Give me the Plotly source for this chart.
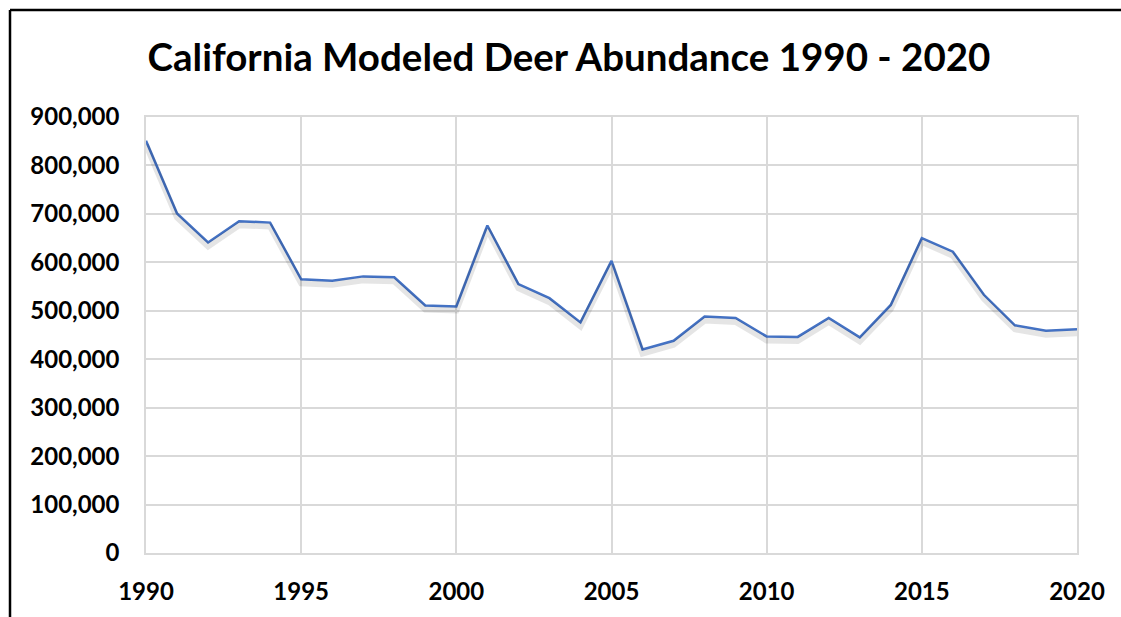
import plotly.graph_objects as go

years = list(range(1990, 2021))
abundance = [
    851000, 701000, 641000, 685000, 682000,
    565000, 562000, 571000, 569000, 511000,
    509000, 676000, 555000, 526000, 476000,
    603000, 420000, 438000, 488000, 485000,
    447000, 446000, 485000, 445000, 512000,
    650000, 622000, 533000, 470000, 459000,
    462000,
]
title_text = "California Modeled Deer Abundance 1990 - 2020"

W, H = 1121, 617
L, R, T, B = 146, 1077, 117, 553
Y_MAX = 900000

fig = go.Figure()
# soft drop shadow (same series drawn on an overlay axis offset by a few pixels)
shadow_px = 4
shadow_off = shadow_px / (B - T) * Y_MAX
fig.add_trace(go.Scatter(
    x=years, y=abundance, mode="lines", xaxis="x", yaxis="y2",
    line=dict(color="rgba(0,0,0,0.10)", width=6),
    hoverinfo="skip", showlegend=False,
))
fig.add_trace(go.Scatter(
    x=years, y=abundance, mode="lines",
    line=dict(color="#4472C4", width=2.5),
    hoverinfo="x+y", showlegend=False,
))

font_family = "Lato, 'Open Sans', sans-serif"
fig.update_layout(
    width=W, height=H,
    margin=dict(l=L, r=W - R, t=T, b=H - B, pad=0),
    paper_bgcolor="white", plot_bgcolor="white",
    title=dict(
        text=title_text, x=(145 + 993) / 2 / W, xanchor="center",
        y=1 - 58 / H, yanchor="middle",
        font=dict(family=font_family, size=38.5, color="#000000", weight="bold"),
    ),
    font=dict(family=font_family, color="#000000"),
    yaxis2=dict(overlaying="y", range=[shadow_off, Y_MAX + shadow_off],
                visible=False, showgrid=False, zeroline=False),
)
fig.update_xaxes(
    range=[1990, 2020], tick0=1990, dtick=5,
    showgrid=True, gridcolor="#d9d9d9", gridwidth=1.5,
    showline=True, linecolor="#d9d9d9", linewidth=1.5, mirror=True,
    zeroline=False,
    ticks="outside", ticklen=16, tickcolor="rgba(0,0,0,0)",
    tickfont=dict(family=font_family, size=24, color="#000000", weight="bold"),
)
fig.update_layout(yaxis=dict(
    range=[0, Y_MAX], dtick=100000, tickformat=",d",
    showgrid=True, gridcolor="#d9d9d9", gridwidth=1.5,
    showline=True, linecolor="#d9d9d9", linewidth=1.5, mirror=True,
    zeroline=False,
    ticks="outside", ticklen=20, tickcolor="rgba(0,0,0,0)",
    tickfont=dict(family=font_family, size=24, color="#000000", weight="bold"),
))

# frame around the chart (partially cropped in the reference)
def px_x(p):
    return (p - L) / (R - L)

def px_y(p):
    return (B - p) / (B - T)

fig.add_shape(type="line", xref="paper", yref="paper",
              x0=px_x(10), x1=px_x(1125), y0=px_y(10), y1=px_y(10),
              line=dict(color="black", width=2.5))
fig.add_shape(type="line", xref="paper", yref="paper",
              x0=px_x(10), x1=px_x(10), y0=px_y(10), y1=px_y(625),
              line=dict(color="black", width=2.5))

fig.write_html("out.html", config={"displayModeBar": False},
               post_script="document.body.style.margin='0px';document.body.style.overflow='hidden';")
